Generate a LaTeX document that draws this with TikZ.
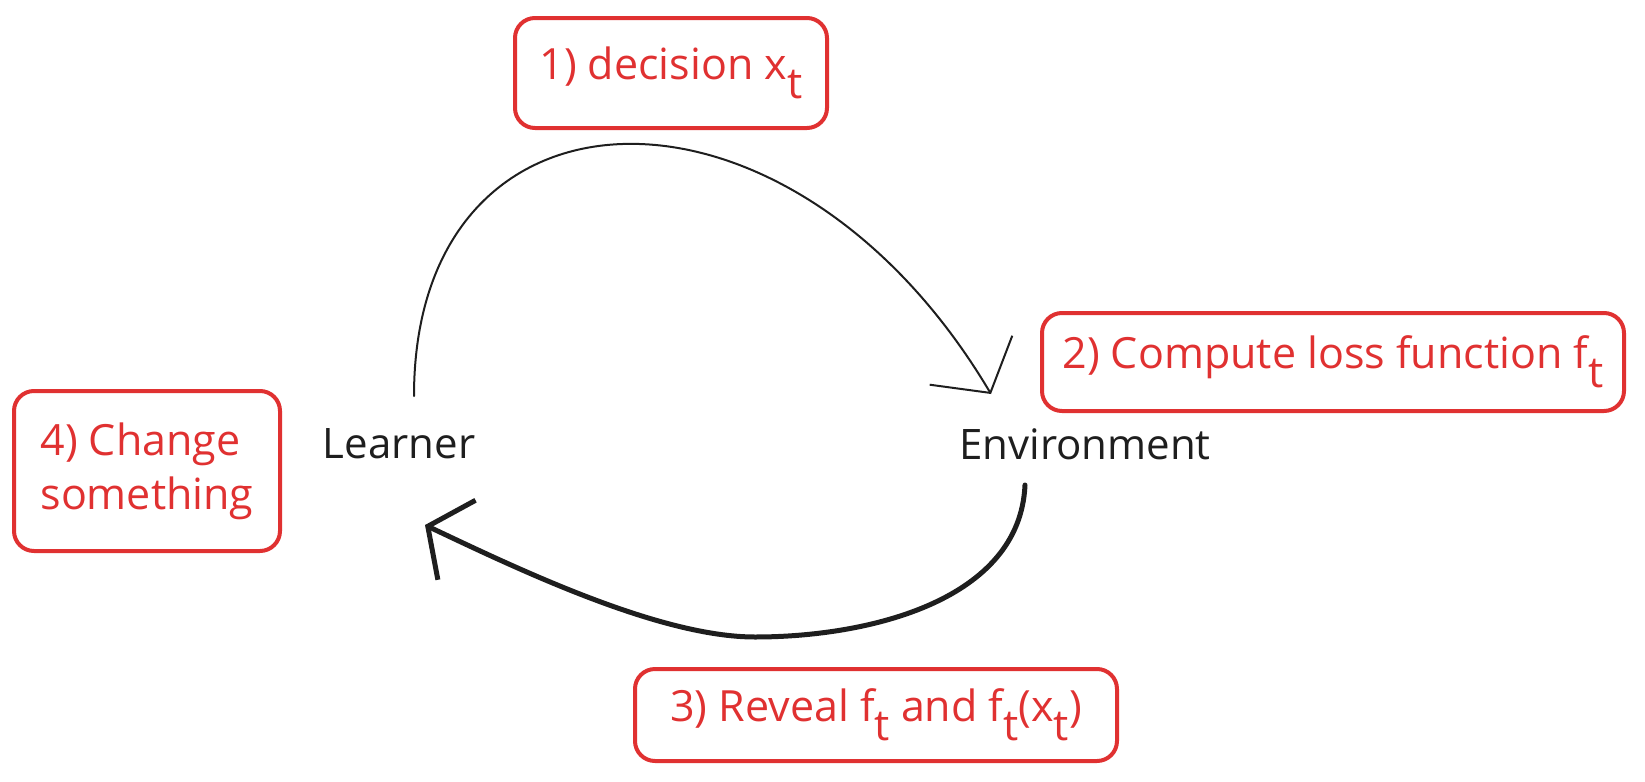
\documentclass[tikz,border=0pt]{standalone}
\usepackage{fontspec}
\setmainfont{Open Sans}
\usetikzlibrary{calc,arrows.meta}
\definecolor{notered}{HTML}{E03131}
\definecolor{ink}{HTML}{1E1E1E}
\newcommand{\subt}{\raisebox{-.45em}{t}}

\begin{document}
\begin{tikzpicture}[x=0.5pt,y=-0.5pt,
	note/.style={draw=notered,text=notered,line width=2pt,rounded corners=10pt,font=\fontsize{21.5}{27}\selectfont},
	actor/.style={text=ink,font=\fontsize{21}{27}\selectfont},
	flow/.style={draw=ink,line cap=round,line join=round}]
	\useasboundingbox (0,0) rectangle (1645,782);
	
	% the two parties
	\node[actor] (learner) at (399,444) {Learner};
	\node[actor] (env) at (1085,444) {Environment};
	
	% the four steps
	\node[note,minimum width=156pt,minimum height=55pt] (decide) at (671,73) {1) decision x\subt};
	\node[note,minimum width=291pt,minimum height=49pt] (loss) at (1333,362) {2) Compute loss function f\subt};
	\node[note,minimum width=241pt,minimum height=46pt] (reveal) at (876,715) {3) Reveal f\subt{} and f\subt(x\subt)};
	\node[note,minimum width=133pt,minimum height=80pt,align=left] (change) at (147,471) {4) Change\\something};
	
	% decision goes over, feedback comes back
	\draw[flow,line width=1pt,-{Straight Barb[length=19pt,width=48pt]}] ($(learner)+(15,-48)$) .. controls +(0,-330) and +(-201,-339) .. ($(env)+(-94,-50)$);
	\draw[flow,line width=2.5pt,-{Straight Barb[length=16pt,width=44pt]}] ($(env)+(-60,41)$) .. controls +(-5,115) and +(115,0) .. (755,637) .. controls +(-95,0) and +(95,45) .. ($(learner)+(26,81)$);
\end{tikzpicture}
\end{document}
